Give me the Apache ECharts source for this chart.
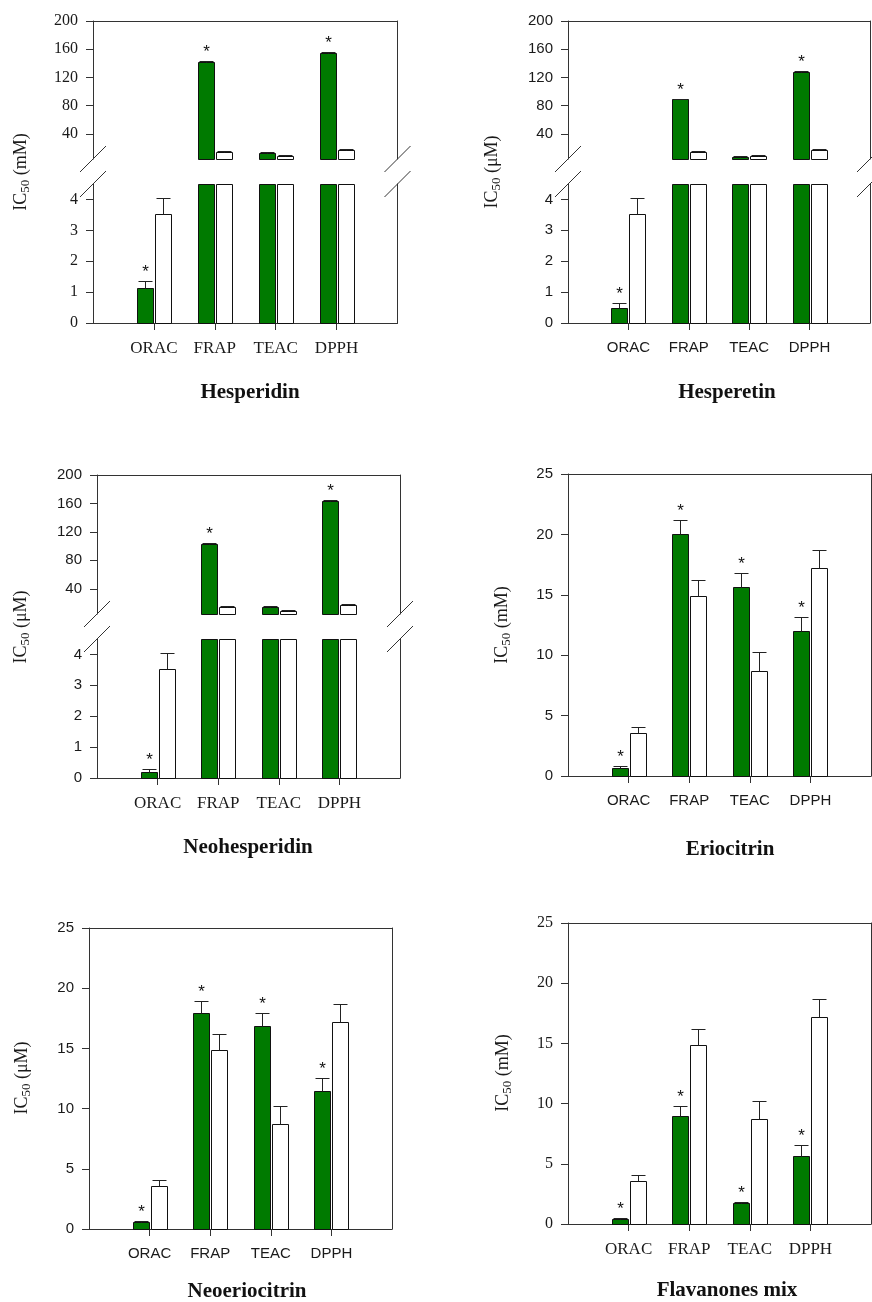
<!DOCTYPE html>
<html>
<head>
<meta charset="utf-8">
<script src="https://cdn.jsdelivr.net/npm/echarts@6/dist/echarts.min.js"></script>
<style>html,body{margin:0;padding:0;background:#fff;}#c{width:872px;height:1302px;}</style>
</head>
<body>
<div id="c"></div>
<script>
// ---------------- data ----------------
const categories = ['ORAC', 'FRAP', 'TEAC', 'DPPH'];
const referenceValues = [3.53, 14.9, 8.72, 17.22];
const referenceErrors = [0.53, 1.3, 1.53, 1.5];

const hesperidinValues = [1.12, 141.5, 12.5, 154];
const hesperidinErrors = [0.25, 1.5, 1.5, 1.5];
const hesperidinSig = [1, 1, 0, 1];

const hesperetinValues = [0.5, 89, 7.8, 127.5];
const hesperetinErrors = [0.15, 1.2, 0.8, 1.2];
const hesperetinSig = [1, 1, 0, 1];

const neohesperidinValues = [0.19, 102.5, 14.5, 164];
const neohesperidinErrors = [0.09, 1.2, 1.2, 1.2];
const neohesperidinSig = [1, 1, 0, 1];

const eriocitrinValues = [0.63, 20.06, 15.62, 12.03];
const eriocitrinErrors = [0.2, 1.13, 1.21, 1.16];
const eriocitrinSig = [1, 1, 1, 1];

const neoeriocitrinValues = [0.61, 17.9, 16.82, 11.46];
const neoeriocitrinErrors = [0.05, 1.07, 1.1, 1.08];
const neoeriocitrinSig = [1, 1, 1, 1];

const flavanonesMixValues = [0.44, 8.95, 1.77, 5.66];
const flavanonesMixErrors = [0.05, 0.83, 0.05, 0.86];
const flavanonesMixSig = [1, 1, 1, 1];

const brokenUpperTicks = [40, 80, 120, 160, 200];
const brokenLowerTicks = [0, 1, 2, 3, 4];
const linearTicks = [0, 5, 10, 15, 20, 25];
const breakLow = 4.5;     // top of lower segment / bottom of upper segment
const brokenMax = 200;
const linearMax = 25;

// ---------------- layout ----------------
const SERIF = 'Liberation Serif';
const SANS = 'Liberation Sans';
const TXT = '#1a1a1a';
const LINE = '#333';
const GREEN = '#007a00';
const BAR_W = 16, OFFSET = 9, CAP = 7;

const panels = [
  {name: 'Hesperidin', unit: 'mM', values: hesperidinValues, errors: hesperidinErrors, sig: hesperidinSig, broken: true,
   l: 93, r: 397.5, t: 21, b: 323, ub: 159, lt: 184, tickFont: SERIF, catFont: SERIF, title: [250, 393], yname: [21, 172]},
  {name: 'Hesperetin', unit: 'μM', values: hesperetinValues, errors: hesperetinErrors, sig: hesperetinSig, broken: true,
   l: 568, r: 870, t: 21, b: 323, ub: 159, lt: 184, tickFont: SANS, catFont: SANS, title: [727, 393], yname: [492, 172]},
  {name: 'Neohesperidin', unit: 'μM', values: neohesperidinValues, errors: neohesperidinErrors, sig: neohesperidinSig, broken: true,
   l: 97, r: 400, t: 475, b: 778, ub: 614, lt: 639, tickFont: SANS, catFont: SERIF, title: [248, 848], yname: [21, 627]},
  {name: 'Eriocitrin', unit: 'mM', values: eriocitrinValues, errors: eriocitrinErrors, sig: eriocitrinSig, broken: false,
   l: 568, r: 871, t: 474, b: 776, tickFont: SANS, catFont: SANS, title: [730, 850], yname: [502, 625]},
  {name: 'Neoeriocitrin', unit: 'μM', values: neoeriocitrinValues, errors: neoeriocitrinErrors, sig: neoeriocitrinSig, broken: false,
   l: 89, r: 392, t: 928, b: 1229, tickFont: SANS, catFont: SANS, title: [247, 1292], yname: [22, 1078]},
  {name: 'Flavanones mix', unit: 'mM', values: flavanonesMixValues, errors: flavanonesMixErrors, sig: flavanonesMixSig, broken: false,
   l: 568, r: 871, t: 923, b: 1224, tickFont: SERIF, catFont: SERIF, title: [727, 1291], yname: [503, 1073]}
];

const xCats = [''].concat(categories, ['']);
const grids = [], xAxes = [], yAxes = [], series = [], graphics = [];

function addGrid(p, top, bottom, lo, hi, ticks, opts) {
  const gi = grids.length;
  grids.push({left: p.l, top: top, width: p.r - p.l, height: bottom - top, outerBoundsMode: 'none', containLabel: false});
  let xMain;
  if (opts.bottom) {
    xMain = xAxes.length;
    xAxes.push({
      gridIndex: gi, type: 'category', data: xCats, boundaryGap: false, position: 'bottom',
      axisLine: {show: true, onZero: false, lineStyle: {color: LINE, width: 1}},
      axisTick: {show: true, inside: false, length: 7, interval: function (i) { return i > 0 && i < xCats.length - 1; }, lineStyle: {color: LINE}},
      axisLabel: {show: true, interval: 0, margin: 17, color: TXT, fontFamily: p.catFont, fontSize: p.catFont === SERIF ? 17 : 15},
      splitLine: {show: false}
    });
  }
  if (opts.top) {
    const xi = xAxes.length;
    xAxes.push({
      gridIndex: gi, type: 'category', data: xCats, boundaryGap: false, position: 'top',
      axisLine: {show: true, onZero: false, lineStyle: {color: LINE, width: 1}},
      axisTick: {show: false}, axisLabel: {show: false}, splitLine: {show: false}
    });
    if (xMain === undefined) xMain = xi;
  }
  const yMain = yAxes.length;
  yAxes.push({
    gridIndex: gi, type: 'value', min: lo, max: hi, position: 'left',
    axisLine: {show: true, onZero: false, lineStyle: {color: LINE, width: 1}},
    axisTick: {show: true, inside: false, length: 7, customValues: ticks, lineStyle: {color: LINE}},
    axisLabel: {show: true, customValues: ticks, margin: 15, color: TXT, fontFamily: p.tickFont, fontSize: p.tickFont === SERIF ? 16 : 15},
    splitLine: {show: false}
  });
  yAxes.push({
    gridIndex: gi, type: 'value', min: lo, max: hi, position: 'right',
    axisLine: {show: true, onZero: false, lineStyle: {color: LINE, width: 1}},
    axisTick: {show: false}, axisLabel: {show: false}, splitLine: {show: false}
  });
  // two bar groups: compound (green) and reference (white)
  const groups = [
    {values: p.values, errors: p.errors, sig: p.sig, fill: GREEN, offset: -OFFSET},
    {values: referenceValues, errors: referenceErrors, sig: [0, 0, 0, 0], fill: '#ffffff', offset: OFFSET}
  ];
  groups.forEach(function (g) {
    series.push({
      type: 'custom', xAxisIndex: xMain, yAxisIndex: yMain, silent: true, animation: false, clip: false,
      data: categories.map(function (c, k) { return [c, g.values[k], g.errors[k], g.sig[k]]; }),
      renderItem: function (params, api) {
        const i = api.value(0), v = api.value(1), e = api.value(2), s = api.value(3);
        if (v <= lo) return null;
        const topV = Math.min(v, hi);
        const p0 = api.coord([i, lo]);
        const p1 = api.coord([i, topV]);
        const cx = Math.round(p0[0] + g.offset) + 0.5;
        const yb = Math.round(p0[1]) + 0.5, yt = Math.round(p1[1]) + 0.5;
        const children = [{
          type: 'rect', shape: {x: cx - BAR_W / 2, y: yt, width: BAR_W, height: yb - yt},
          style: {fill: g.fill, stroke: '#111', lineWidth: 1}
        }];
        if (v + e <= hi) {
          const ye = Math.round(api.coord([i, v + e])[1]) + 0.5;
          children.push({type: 'line', shape: {x1: cx, y1: yt, x2: cx, y2: ye}, style: {stroke: '#222', lineWidth: 1}});
          children.push({type: 'line', shape: {x1: cx - CAP, y1: ye, x2: cx + CAP, y2: ye}, style: {stroke: '#222', lineWidth: 1}});
          if (s) {
            children.push({type: 'text', x: cx, y: ye - 9,
              style: {text: '*', fontFamily: SANS, fontSize: 17, fill: '#111', align: 'center', verticalAlign: 'middle'}});
          }
        }
        return {type: 'group', children: children};
      }
    });
  });
}

function breakMark(x, y) {
  graphics.push({type: 'line', silent: true, shape: {x1: x - 13, y1: y + 13, x2: x + 13, y2: y - 13},
    style: {stroke: LINE, lineWidth: 1}});
}

panels.forEach(function (p) {
  if (p.broken) {
    addGrid(p, p.t, p.ub, breakLow, brokenMax, brokenUpperTicks, {top: true});
    addGrid(p, p.lt, p.b, 0, breakLow, brokenLowerTicks, {bottom: true});
    [p.l, p.r].forEach(function (x) { breakMark(x, p.ub); breakMark(x, p.lt); });
  } else {
    addGrid(p, p.t, p.b, 0, linearMax, linearTicks, {top: true, bottom: true});
  }
  graphics.push({
    type: 'text', x: p.yname[0], y: p.yname[1], rotation: Math.PI / 2, silent: true,
    style: {
      text: '{a|IC}{b|50}{a| (' + p.unit + ')}', align: 'center', verticalAlign: 'middle',
      rich: {
        a: {fontFamily: SERIF, fontSize: 18, fill: TXT, lineHeight: 22, verticalAlign: 'middle'},
        b: {fontFamily: SERIF, fontSize: 13, fill: TXT, lineHeight: 14, verticalAlign: 'bottom', padding: [10, 0, 0, 0]}
      }
    }
  });
  graphics.push({
    type: 'text', x: p.title[0], y: p.title[1], silent: true,
    style: {text: p.name, fontFamily: SERIF, fontWeight: 'bold', fontSize: 21, fill: '#111', align: 'center', verticalAlign: 'middle'}
  });
});

const chart = echarts.init(document.getElementById('c'), null, {renderer: 'canvas', width: 872, height: 1302});
chart.setOption({
  animation: false,
  backgroundColor: '#ffffff',
  grid: grids,
  xAxis: xAxes,
  yAxis: yAxes,
  series: series,
  graphic: graphics
});
</script>
</body>
</html>
